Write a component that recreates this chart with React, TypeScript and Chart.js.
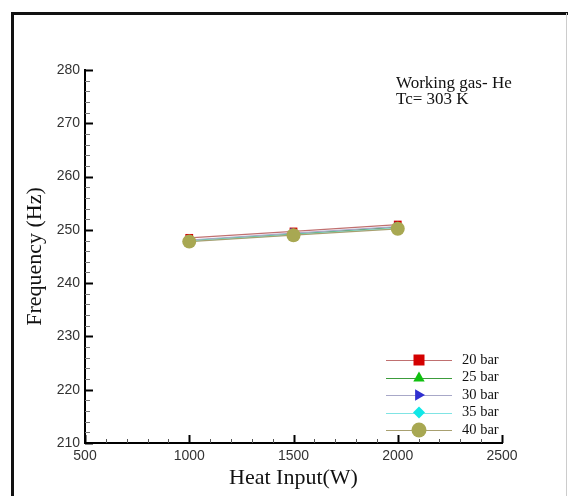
import React, { useEffect, useRef } from "react";
import { Chart, registerables } from "chart.js";

Chart.register(...registerables);

const heatInput = [1000, 1500, 2000];
const seriesLabels = ["20 bar", "25 bar", "30 bar", "35 bar", "40 bar"];
const freq20 = [248.5, 249.7, 251.0];
const freq25 = [248.0, 249.2, 250.5];
const freq30 = [248.1, 249.4, 250.6];
const freq35 = [247.9, 249.1, 250.3];
const freq40 = [247.8, 249.0, 250.2];
const xTicks = [500, 1000, 1500, 2000, 2500];
const yTicks = [210, 220, 230, 240, 250, 260, 270, 280];

const lineColors = ["#c07070", "#3c9c3c", "#a8a8c8", "#80e4e4", "#a8a070"];
const pointColors = ["#d40000", "#10c010", "#3030d0", "#10e8e8", "#a8a852"];
const pointStyles = ["rect", "triangle", "triangle", "rectRot", "circle"];
const pointRotations = [0, 0, 90, 0, 0];
const pointRadii = [5.5, 6, 6, 6, 7];

function drawMarker(ctx: CanvasRenderingContext2D, i: number, x: number, y: number) {
  const r = pointRadii[i];
  ctx.save();
  ctx.fillStyle = pointColors[i];
  ctx.translate(x, y);
  ctx.beginPath();
  const st = pointStyles[i];
  if (st === "rect") {
    ctx.rect(-r, -r, 2 * r, 2 * r);
  } else if (st === "triangle") {
    ctx.rotate((pointRotations[i] * Math.PI) / 180);
    ctx.moveTo(0, -r);
    ctx.lineTo(r * 0.95, r * 0.65);
    ctx.lineTo(-r * 0.95, r * 0.65);
    ctx.closePath();
  } else if (st === "rectRot") {
    ctx.moveTo(0, -r);
    ctx.lineTo(r, 0);
    ctx.lineTo(0, r);
    ctx.lineTo(-r, 0);
    ctx.closePath();
  } else {
    ctx.arc(0, 0, r + 0.5, 0, Math.PI * 2);
  }
  ctx.fill();
  ctx.restore();
}

const decorPlugin = {
  id: "decor",
  beforeDraw(chart: any) {
    const ctx = chart.ctx as CanvasRenderingContext2D;
    ctx.save();
    ctx.fillStyle = "#fff";
    ctx.fillRect(0, 0, chart.width, chart.height);
    ctx.strokeStyle = "#111";
    ctx.lineWidth = 3;
    ctx.beginPath();
    ctx.moveTo(12.5, 496);
    ctx.lineTo(12.5, 13.5);
    ctx.lineTo(568, 13.5);
    ctx.stroke();
    ctx.strokeStyle = "#ccc";
    ctx.lineWidth = 1;
    ctx.beginPath();
    ctx.moveTo(566.5, 13);
    ctx.lineTo(566.5, 496);
    ctx.stroke();
    ctx.restore();
  },
  afterDraw(chart: any) {
    const ctx = chart.ctx as CanvasRenderingContext2D;
    const xs = chart.scales.x;
    const ys = chart.scales.y;
    const a = chart.chartArea;
    ctx.save();
    for (let v = 500; v <= 2500; v += 100) {
      const px = Math.round(xs.getPixelForValue(v)) + 0.5;
      const major = v % 500 === 0;
      ctx.strokeStyle = major ? "#000" : "#555";
      ctx.lineWidth = major ? 2 : 1;
      ctx.beginPath();
      ctx.moveTo(px, a.bottom);
      ctx.lineTo(px, a.bottom - (major ? 8 : 4));
      ctx.stroke();
    }
    for (let v = 210; v <= 280; v += 2) {
      const py = Math.round(ys.getPixelForValue(v)) + 0.5;
      const major = v % 10 === 0;
      ctx.strokeStyle = major ? "#000" : "#777";
      ctx.lineWidth = major ? 2 : 1;
      ctx.beginPath();
      ctx.moveTo(a.left, py);
      ctx.lineTo(a.left + (major ? 8 : 5), py);
      ctx.stroke();
    }
    ctx.fillStyle = "#111";
    ctx.font = "17px 'Liberation Serif', 'Times New Roman', serif";
    ctx.textAlign = "left";
    ctx.textBaseline = "alphabetic";
    ctx.fillText("Working gas- He", 396, 88);
    ctx.fillText("Tc= 303 K", 396, 104);
    ctx.font = "14.5px 'Liberation Serif', 'Times New Roman', serif";
    ctx.textBaseline = "middle";
    chart.data.datasets.forEach((ds: any, i: number) => {
      const y = 360 + i * 17.5;
      ctx.strokeStyle = lineColors[i];
      ctx.lineWidth = 1;
      ctx.beginPath();
      ctx.moveTo(386, Math.round(y) + 0.5);
      ctx.lineTo(452, Math.round(y) + 0.5);
      ctx.stroke();
      drawMarker(ctx, i, 419, y);
      ctx.fillStyle = "#111";
      ctx.fillText(ds.label, 462, y);
    });
    ctx.restore();
  },
};

export default function App() {
  const ref = useRef<HTMLCanvasElement | null>(null);
  useEffect(() => {
    if (!ref.current) return;
    const series = [freq20, freq25, freq30, freq35, freq40];
    const chart = new Chart(ref.current, {
      type: "line",
      data: {
        datasets: series.map((s, i) => ({
          label: seriesLabels[i],
          data: heatInput.map((x, j) => ({ x, y: s[j] })),
          borderColor: lineColors[i],
          borderWidth: 1.2,
          backgroundColor: pointColors[i],
          pointBackgroundColor: pointColors[i],
          pointBorderWidth: 0,
          pointStyle: pointStyles[i] as any,
          rotation: pointRotations[i],
          pointRadius: pointRadii[i],
          order: 4 - i,
          tension: 0,
        })),
      },
      options: {
        responsive: false,
        animation: false,
        events: [],
        layout: { padding: { left: 0, right: 66, top: 70, bottom: 0 } },
        plugins: { legend: { display: false }, tooltip: { enabled: false } },
        scales: {
          x: {
            type: "linear",
            min: 500,
            max: 2500,
            afterFit: (s: any) => {
              s.height = 53;
            },
            afterBuildTicks: (s: any) => {
              s.ticks = xTicks.map((v) => ({ value: v }));
            },
            grid: { display: false, drawTicks: false },
            border: { display: true, color: "#000", width: 2 },
            ticks: {
              padding: 5,
              color: "#333",
              callback: (v: any) => String(v),
              font: { family: "'Liberation Sans', Arial, sans-serif", size: 14 },
            },
            title: {
              display: true,
              text: "Heat Input(W)",
              color: "#111",
              padding: { top: 0, bottom: 5 },
              font: { family: "'Liberation Serif', 'Times New Roman', serif", size: 22 },
            },
          },
          y: {
            type: "linear",
            min: 210,
            max: 280,
            afterFit: (s: any) => {
              s.width = 85;
            },
            afterBuildTicks: (s: any) => {
              s.ticks = yTicks.map((v) => ({ value: v }));
            },
            grid: { display: false, drawTicks: false },
            border: { display: true, color: "#000", width: 2 },
            ticks: {
              padding: 5,
              color: "#333",
              callback: (v: any) => String(v),
              font: { family: "'Liberation Sans', Arial, sans-serif", size: 14 },
            },
            title: {
              display: true,
              text: "Frequency (Hz)",
              color: "#111",
              padding: { top: 22, bottom: 0 },
              font: { family: "'Liberation Serif', 'Times New Roman', serif", size: 22 },
            },
          },
        },
      },
      plugins: [decorPlugin],
    });
    return () => chart.destroy();
  }, []);
  return (
    <canvas
      ref={ref}
      width={568}
      height={496}
      style={{ position: "fixed", left: 0, top: 0, width: 568, height: 496 }}
    />
  );
}
